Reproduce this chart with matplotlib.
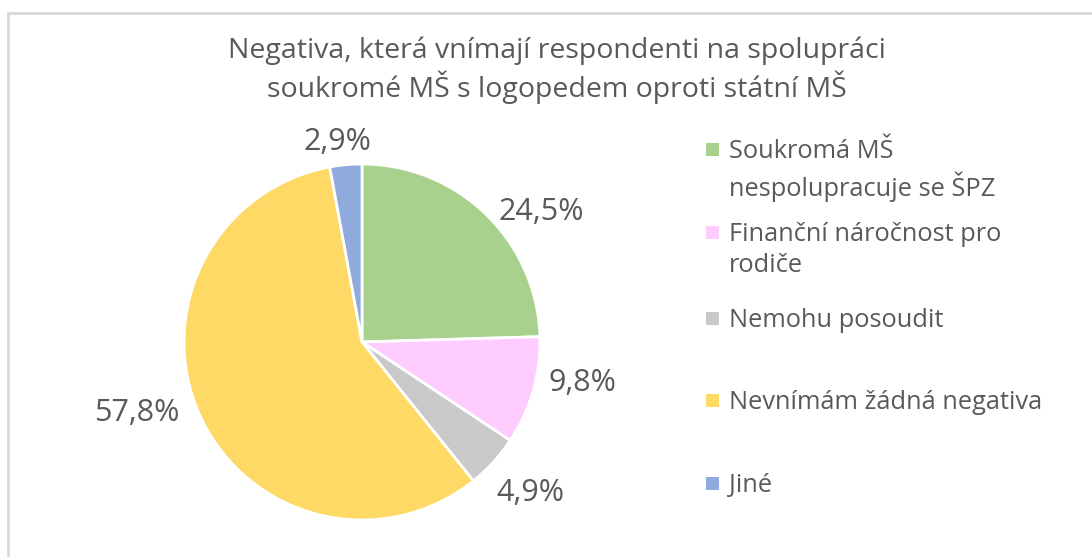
import numpy as np
import matplotlib
matplotlib.use("Agg")
import matplotlib.pyplot as plt
from matplotlib.patches import Rectangle

# -------------------------
# Data
# -------------------------
categories = [
    "Soukromá MŠ\nnespolupracuje se ŠPZ",
    "Finanční náročnost pro\nrodiče",
    "Nemohu posoudit",
    "Nevnímám žádná negativa",
    "Jiné",
]
values = [24.5, 9.8, 4.9, 57.8, 2.9]
colors = ["#A9D18E", "#FFCCFF", "#C9C9C9", "#FFD966", "#8FAADC"]

# label placement (angle in deg, radius in pie units) - Excel "best fit"
label_pos = [(36.0, 1.245), (-10.5, 1.26), (-41.8, 1.27), (-162.5, 1.325), (97.0, 1.13)]
# legend rows: y of first text line (pixels from top)
legend_y = [149, 232, 318, 400, 483]

W, H = 1092, 557
TXT = "#595959"
plt.rcParams["font.family"] = ["Open Sans", "DejaVu Sans"]

fig = plt.figure(figsize=(W / 100, H / 100), dpi=100)

# chart frame
fig.patches.append(Rectangle((8 / W, -0.1), 1.2, (H - 13) / H + 0.1,
                             transform=fig.transFigure, fill=False,
                             edgecolor="#D9D9D9", linewidth=2))

# pie centred at (362, 342) px with radius 178 px
cx, cy, R = 362, 342, 178
half = 200
ax = fig.add_axes([(cx - half) / W, (H - cy - half) / H, 2 * half / W, 2 * half / H])
wedges, _ = ax.pie(values, colors=colors, startangle=90, counterclock=False,
                   wedgeprops=dict(edgecolor="white", linewidth=2))
lim = half / R
ax.set_xlim(-lim, lim)
ax.set_ylim(-lim, lim)
ax.set_aspect("equal")
ax.axis("off")

for v, (ang, r) in zip(values, label_pos):
    a = np.deg2rad(ang)
    ax.text(r * np.cos(a), r * np.sin(a), f"{v:.1f}%".replace(".", ","),
            ha="center", va="center", fontsize=22, color=TXT, clip_on=False)

fig.text(557 / W, 1 - 70 / H,
         "Negativa, která vnímají respondenti na spolupráci\nsoukromé MŠ s logopedem oproti státní MŠ",
         ha="center", va="center", fontsize=20.5, color=TXT, linespacing=1.2)

# legend
for lab, col, y in zip(categories, colors, legend_y):
    fig.patches.append(Rectangle((706 / W, 1 - (y + 6.5) / H), 13 / W, 13 / H,
                                 transform=fig.transFigure, facecolor=col,
                                 edgecolor="none"))
    fig.text(729 / W, 1 - (y - 10) / H, lab, ha="left", va="top",
             fontsize=18.3, color=TXT, linespacing=1.32)

fig.savefig("out.png", dpi=100, facecolor="white")
